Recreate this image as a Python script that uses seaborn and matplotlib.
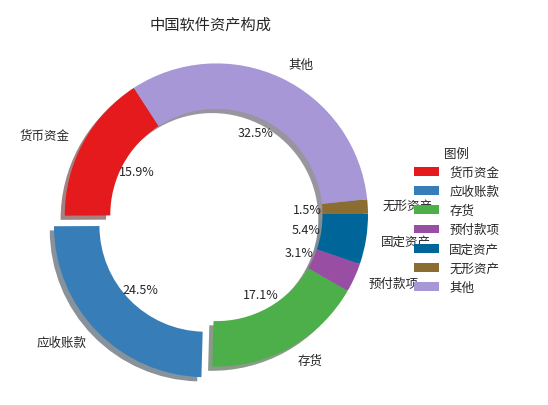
import matplotlib
matplotlib.use("Agg")
import matplotlib.pyplot as plt
import seaborn as sns

sns.set_style("white")
plt.rcParams['font.family'] = ['Noto Sans CJK SC', 'DejaVu Sans']

labels = ['货币资金', '应收账款', '存货', '预付款项', '固定资产', '无形资产', '其他']
values = [15.9, 24.5, 17.1, 3.1, 5.4, 1.5, 32.5]
colors = ['#e41a1c', '#377eb8', '#4daf4a', '#984ea3', '#006699', '#8c6d31', '#a897d6']
explode = [0, 0.1, 0, 0, 0, 0, 0]

fig, ax = plt.subplots(figsize=(5.48, 4.06), dpi=100)
wedges, texts, autotexts = ax.pie(values, labels=labels, colors=colors, explode=explode,
                                  autopct='%1.1f%%', pctdistance=0.6, labeldistance=1.1,
                                  startangle=123, shadow=True,
                                  wedgeprops={'width': 0.3, 'linewidth': 0},
                                  textprops={'fontsize': 9})
ax.set_title('中国软件资产构成', fontsize=11, pad=14)
ax.axis('equal')
ax.legend(wedges, labels, title='图例', loc='center left', bbox_to_anchor=(0.98, 0.5),
          frameon=False, fontsize=9, title_fontsize=9)
plt.subplots_adjust(left=0.02, right=0.75, top=0.88, bottom=0.03)
plt.savefig('out.png', dpi=100)
